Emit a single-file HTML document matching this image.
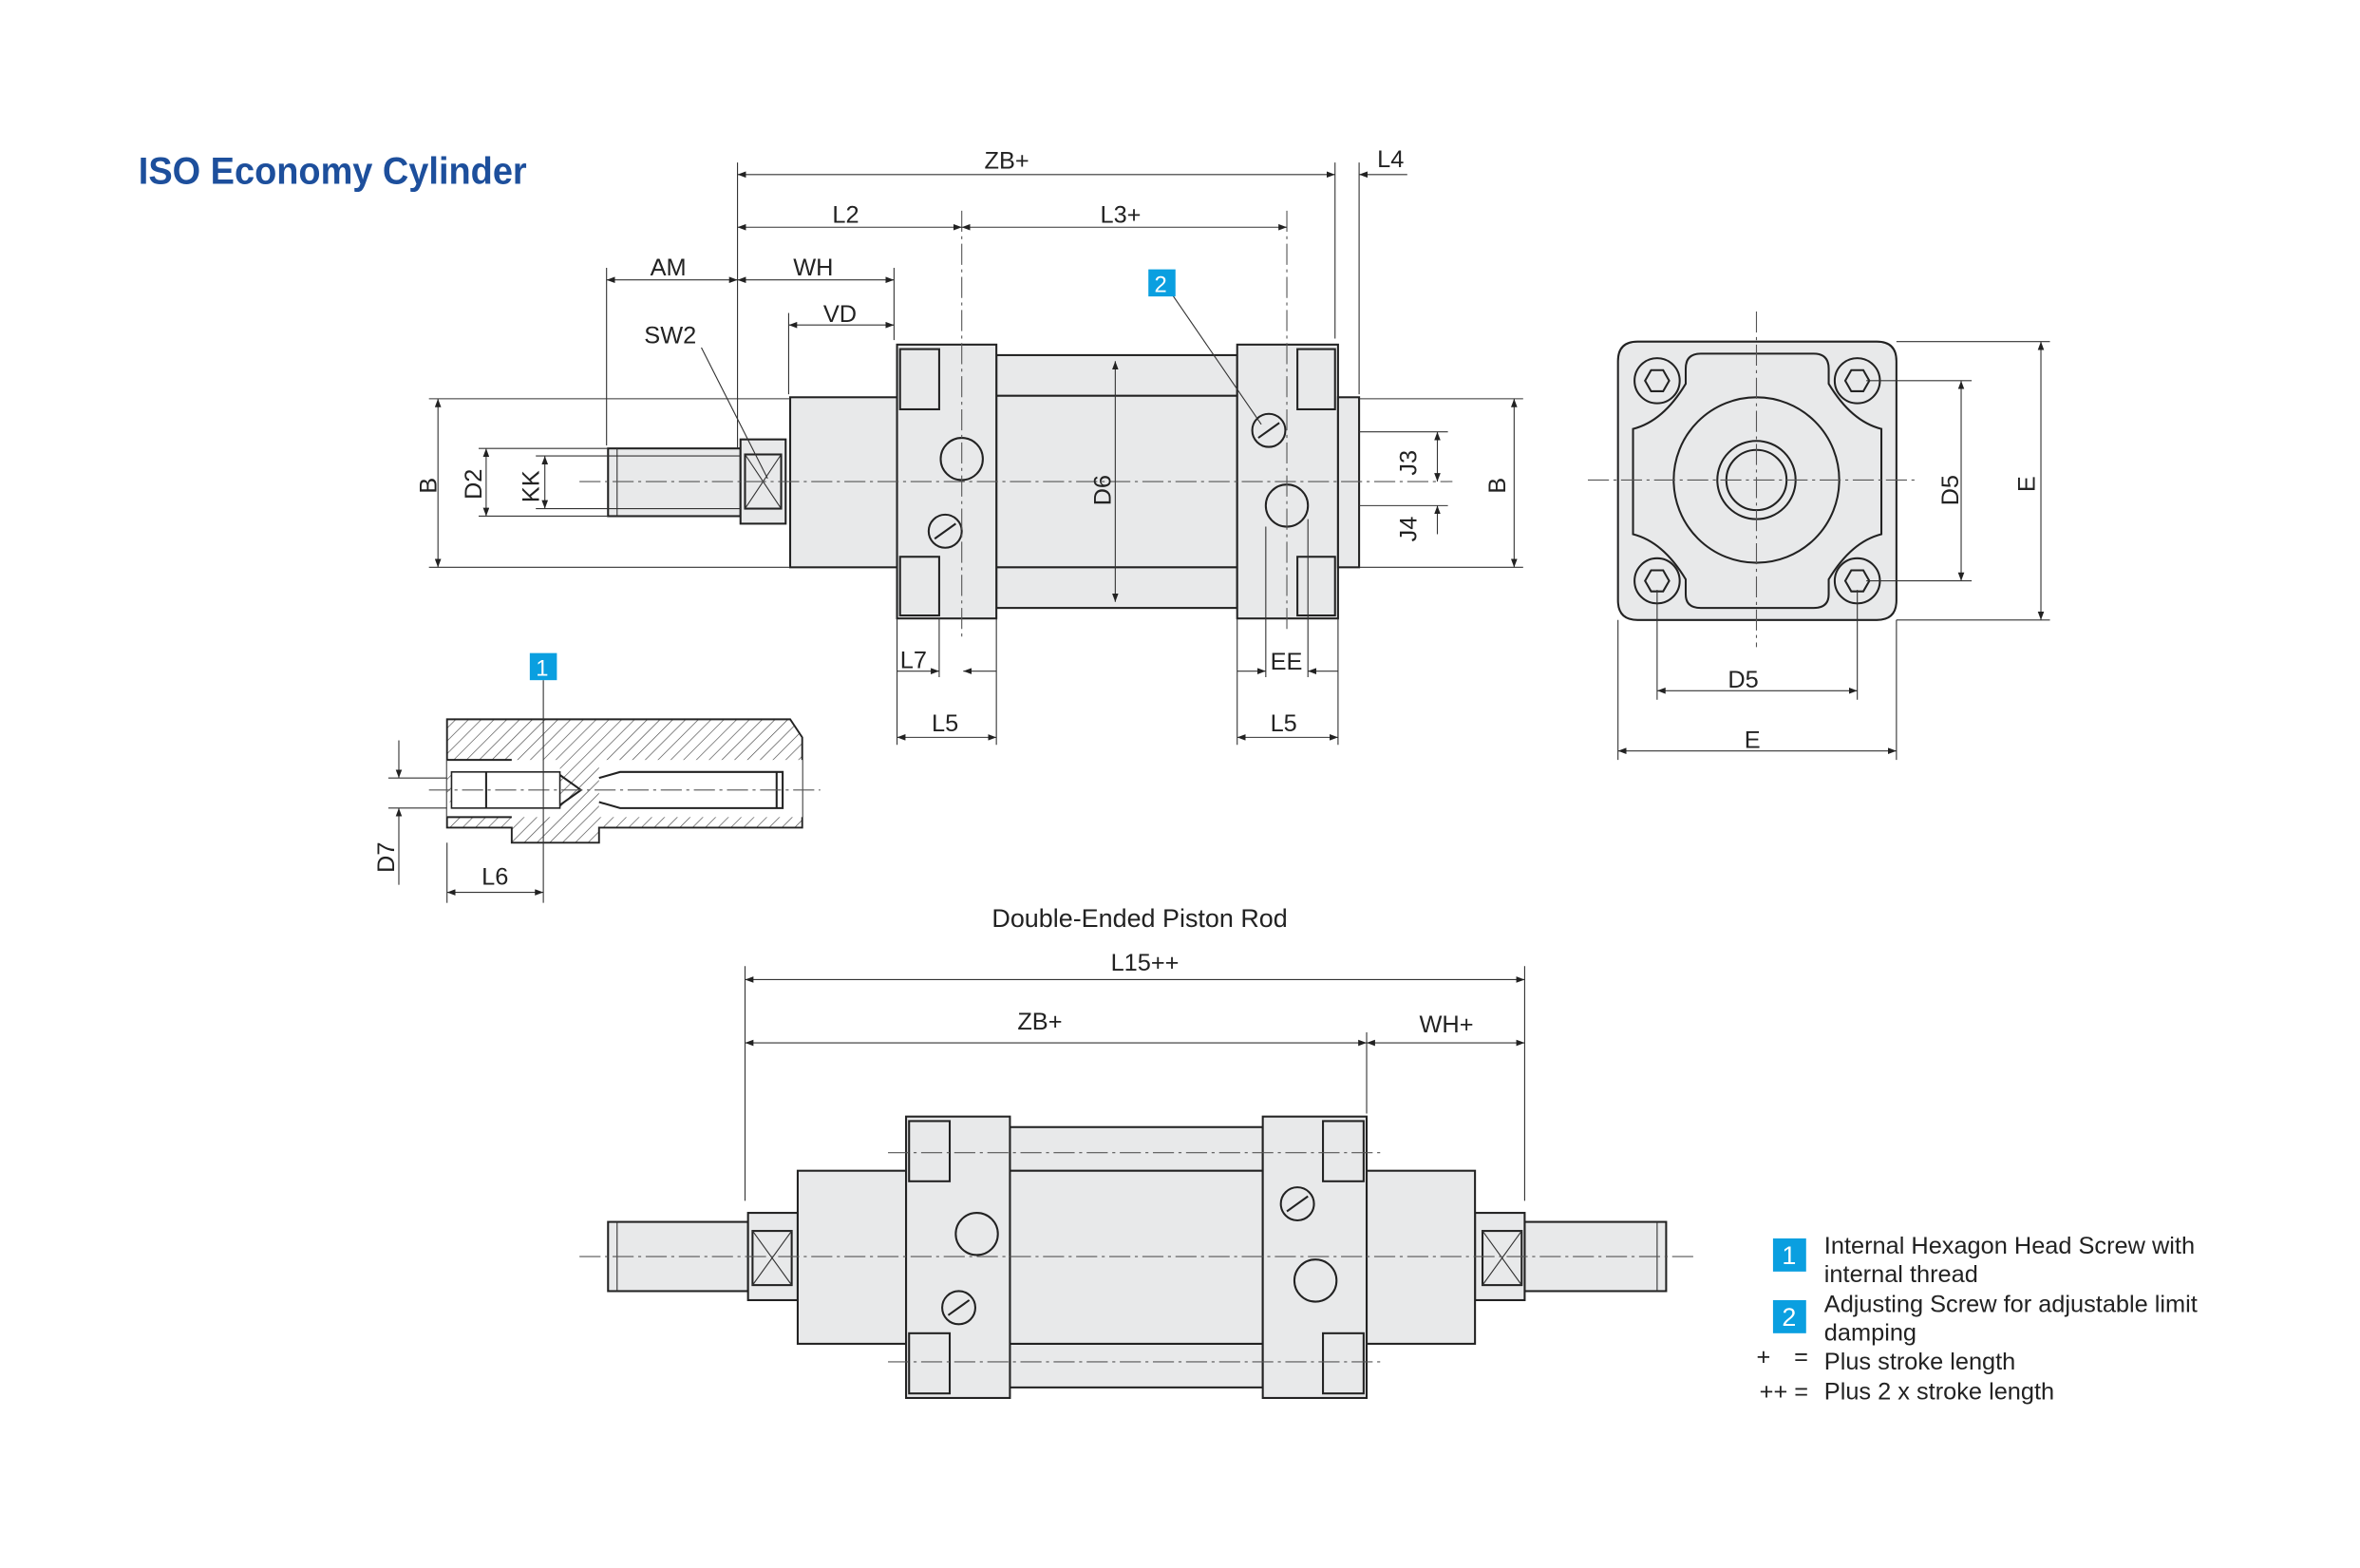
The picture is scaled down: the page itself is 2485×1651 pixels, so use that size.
<!DOCTYPE html>
<html><head><meta charset="utf-8"><style>
html,body{margin:0;padding:0;background:#fff}
svg{display:block}
text{font-family:"Liberation Sans",sans-serif;fill:#222}
.l{stroke:#222;stroke-width:1.3;fill:none}
.f{stroke:#222;stroke-width:1.3;fill:#e8e9ea}
.t{stroke:#333;stroke-width:0.7;fill:none}
.c{stroke:#555;stroke-width:0.7;fill:none;stroke-dasharray:14 3 2 3}
</style></head><body>
<svg width="2485" height="1651" viewBox="0 0 1568 1042" preserveAspectRatio="none" xmlns="http://www.w3.org/2000/svg">
<defs>
<marker id="a" markerWidth="8" markerHeight="6" refX="8" refY="3" orient="auto-start-reverse"><path d="M0,0 L8,3 L0,6 z" fill="#222"/></marker>
<pattern id="h" width="6" height="6" patternUnits="userSpaceOnUse" patternTransform="rotate(45)"><line x1="0" y1="0" x2="0" y2="6" stroke="#444" stroke-width="0.8"/></pattern>
</defs>
<text x="92" y="122" font-size="25" font-weight="bold" textLength="258" lengthAdjust="spacingAndGlyphs" style="fill:#1d4f9c">ISO Economy Cylinder</text>

<rect class="f" x="404" y="298" width="88" height="45"/>
<line class="t" x1="410" y1="298" x2="410" y2="343"/>
<rect class="f" x="492" y="292" width="30" height="56"/>
<rect class="l" x="495" y="302" width="24" height="36"/><line class="t" x1="495" y1="302" x2="519" y2="338"/><line class="t" x1="519" y1="302" x2="495" y2="338"/>
<rect class="f" x="525" y="264" width="71" height="113"/>
<rect class="f" x="662" y="236" width="160" height="168"/>
<line class="l" x1="662" y1="263" x2="822" y2="263"/><line class="l" x1="662" y1="377" x2="822" y2="377"/>
<rect class="f" x="596" y="229" width="66" height="182"/>
<rect class="l" x="598" y="232" width="26" height="40"/><rect class="l" x="598" y="370" width="26" height="39"/>
<rect class="f" x="822" y="229" width="67" height="182"/>
<rect class="l" x="862" y="232" width="25" height="40"/><rect class="l" x="862" y="370" width="25" height="39"/>
<rect class="f" x="889" y="264" width="14" height="113"/>
<circle class="l" cx="639" cy="305" r="14"/><circle class="l" cx="628" cy="353" r="11"/><line class="l" x1="621" y1="358" x2="635" y2="348"/>
<circle class="l" cx="843" cy="286" r="11"/><line class="l" x1="836" y1="291" x2="850" y2="281"/>
<circle class="l" cx="855" cy="336" r="14"/>
<line class="c" x1="385" y1="320" x2="965" y2="320"/>
<line class="c" x1="855" y1="140" x2="855" y2="420"/>
<line class="c" x1="639" y1="140" x2="639" y2="425"/>

<g class="t">
<line x1="490" y1="108" x2="490" y2="298"/><line x1="887" y1="108" x2="887" y2="225"/><line x1="903" y1="108" x2="903" y2="262"/>
<line x1="403" y1="178" x2="403" y2="296"/><line x1="594" y1="178" x2="594" y2="226"/><line x1="524" y1="208" x2="524" y2="262"/>
<line x1="490" y1="116" x2="887" y2="116" marker-start="url(#a)" marker-end="url(#a)"/>
<line x1="903" y1="116" x2="935" y2="116" marker-start="url(#a)"/>
<line x1="490" y1="151" x2="639" y2="151" marker-start="url(#a)" marker-end="url(#a)"/>
<line x1="639" y1="151" x2="855" y2="151" marker-start="url(#a)" marker-end="url(#a)"/>
<line x1="403" y1="186" x2="490" y2="186" marker-start="url(#a)" marker-end="url(#a)"/>
<line x1="490" y1="186" x2="594" y2="186" marker-start="url(#a)" marker-end="url(#a)"/>
<line x1="524" y1="216" x2="594" y2="216" marker-start="url(#a)" marker-end="url(#a)"/>
<line x1="466" y1="231" x2="510" y2="318"/>
<line x1="779" y1="196" x2="838" y2="282"/>
<line x1="285" y1="265" x2="525" y2="265"/><line x1="285" y1="377" x2="525" y2="377"/>
<line x1="318" y1="298" x2="404" y2="298"/><line x1="318" y1="343" x2="404" y2="343"/>
<line x1="291" y1="265" x2="291" y2="377" marker-start="url(#a)" marker-end="url(#a)"/>
<line x1="323" y1="298" x2="323" y2="343" marker-start="url(#a)" marker-end="url(#a)"/>
<line x1="362" y1="303" x2="362" y2="338" marker-start="url(#a)" marker-end="url(#a)"/>
<line x1="356" y1="303" x2="492" y2="303"/><line x1="356" y1="338" x2="492" y2="338"/>
<line x1="741" y1="240" x2="741" y2="400" marker-start="url(#a)" marker-end="url(#a)"/>
<line x1="903" y1="265" x2="1012" y2="265"/><line x1="903" y1="377" x2="1012" y2="377"/>
<line x1="1006" y1="265" x2="1006" y2="377" marker-start="url(#a)" marker-end="url(#a)"/>
<line x1="903" y1="287" x2="962" y2="287"/><line x1="903" y1="336" x2="962" y2="336"/>
<line x1="955" y1="287" x2="955" y2="320" marker-start="url(#a)" marker-end="url(#a)"/>
<line x1="955" y1="336" x2="955" y2="355" marker-start="url(#a)"/>
<line x1="596" y1="411" x2="596" y2="495"/><line x1="662" y1="411" x2="662" y2="495"/><line x1="624" y1="411" x2="624" y2="450"/>
<line x1="822" y1="411" x2="822" y2="495"/><line x1="889" y1="411" x2="889" y2="495"/><line x1="869" y1="345" x2="869" y2="450"/><line x1="841" y1="350" x2="841" y2="450"/>
<line x1="596" y1="446" x2="624" y2="446" marker-end="url(#a)"/><line x1="640" y1="446" x2="662" y2="446" marker-start="url(#a)"/>
<line x1="596" y1="490" x2="662" y2="490" marker-start="url(#a)" marker-end="url(#a)"/>
<line x1="822" y1="446" x2="841" y2="446" marker-end="url(#a)"/><line x1="869" y1="446" x2="889" y2="446" marker-start="url(#a)"/>
<line x1="822" y1="490" x2="889" y2="490" marker-start="url(#a)" marker-end="url(#a)"/>
</g>
<g font-size="16">
<text x="654" y="112">ZB+</text><text x="915" y="111">L4</text><text x="553" y="148">L2</text><text x="731" y="148">L3+</text>
<text x="432" y="183">AM</text><text x="527" y="183">WH</text><text x="547" y="214">VD</text><text x="428" y="228">SW2</text>
<text x="598" y="444">L7</text><text x="844" y="445">EE</text><text x="619" y="486">L5</text><text x="844" y="486">L5</text>
<text transform="translate(290,328) rotate(-90)">B</text><text transform="translate(320,332) rotate(-90)">D2</text>
<text transform="translate(358,334) rotate(-90)">KK</text><text transform="translate(738,336) rotate(-90)">D6</text>
<text transform="translate(941,316) rotate(-90)">J3</text><text transform="translate(941,360) rotate(-90)">J4</text>
<text transform="translate(1000,328) rotate(-90)">B</text>
</g>
<rect x="763" y="179" width="18" height="18" fill="#0a9fe0"/><text x="767" y="194" font-size="15" style="fill:#fff">2</text>

<path class="f" d="M1088,227 H1247 Q1260,227 1260,240 V399 Q1260,412 1247,412 H1088 Q1075,412 1075,399 V240 Q1075,227 1088,227 Z"/>
<path class="l" d="M1130,235 H1205 Q1215,235 1215,245 V255 Q1230,280 1250,285 V355 Q1230,360 1215,385 V395 Q1215,404 1205,404 H1130 Q1120,404 1120,395 V385 Q1105,360 1085,355 V285 Q1105,280 1120,255 V245 Q1120,235 1130,235 Z"/>
<circle class="l" cx="1167" cy="319" r="55" fill="#e8e9ea"/><circle class="l" cx="1167" cy="319" r="26"/><circle class="l" cx="1167" cy="319" r="20"/>
<g class="l">
<circle cx="1101" cy="253" r="15"/><circle cx="1234" cy="253" r="15"/><circle cx="1101" cy="386" r="15"/><circle cx="1234" cy="386" r="15"/>
<polygon points="1093,253 1097,246 1105,246 1109,253 1105,260 1097,260"/><polygon points="1226,253 1230,246 1238,246 1242,253 1238,260 1230,260"/>
<polygon points="1093,386 1097,379 1105,379 1109,386 1105,393 1097,393"/><polygon points="1226,386 1230,379 1238,379 1242,386 1238,393 1230,393"/>
</g>
<line class="c" x1="1055" y1="319" x2="1275" y2="319"/><line class="c" x1="1167" y1="207" x2="1167" y2="430"/>
<g class="t">
<line x1="1240" y1="253" x2="1310" y2="253"/><line x1="1240" y1="386" x2="1310" y2="386"/>
<line x1="1260" y1="227" x2="1362" y2="227"/><line x1="1260" y1="412" x2="1362" y2="412"/>
<line x1="1303" y1="253" x2="1303" y2="386" marker-start="url(#a)" marker-end="url(#a)"/>
<line x1="1356" y1="227" x2="1356" y2="412" marker-start="url(#a)" marker-end="url(#a)"/>
<line x1="1101" y1="392" x2="1101" y2="465"/><line x1="1234" y1="392" x2="1234" y2="465"/>
<line x1="1075" y1="412" x2="1075" y2="505"/><line x1="1260" y1="412" x2="1260" y2="505"/>
<line x1="1101" y1="459" x2="1234" y2="459" marker-start="url(#a)" marker-end="url(#a)"/>
<line x1="1075" y1="499" x2="1260" y2="499" marker-start="url(#a)" marker-end="url(#a)"/>
</g>
<g font-size="16"><text x="1148" y="457">D5</text><text x="1159" y="497">E</text>
<text transform="translate(1301,336) rotate(-90)">D5</text><text transform="translate(1352,327) rotate(-90)">E</text></g>

<path d="M297,478 H525 L533,490 V550 H398 V560 H340 V550 H297 Z" fill="url(#h)" stroke="#222" stroke-width="1.2"/>
<rect x="297" y="505" width="236" height="38" fill="#fff"/>
<path d="M297,515 H372 V505 H398 V543 H372 V533 H297 Z" fill="url(#h)"/>
<rect x="300" y="513" width="72" height="24" fill="#fff" stroke="#222" stroke-width="1"/>
<path class="l" d="M297,505 H340 M297,543 H340 M398,517 L412,513 H520 V537 H412 L398,533 M372,515 L386,525 L372,535"/>
<line class="l" x1="323" y1="513" x2="323" y2="537"/>
<line class="l" x1="516" y1="513" x2="516" y2="537"/>
<line class="c" x1="285" y1="525" x2="545" y2="525"/>
<g class="t"><line x1="297" y1="560" x2="297" y2="600"/><line x1="361" y1="452" x2="361" y2="600"/>
<line x1="297" y1="593" x2="361" y2="593" marker-start="url(#a)" marker-end="url(#a)"/>
<line x1="258" y1="517" x2="297" y2="517"/><line x1="258" y1="537" x2="297" y2="537"/>
<line x1="265" y1="492" x2="265" y2="517" marker-end="url(#a)"/><line x1="265" y1="588" x2="265" y2="537" marker-end="url(#a)"/></g>
<rect x="352" y="434" width="18" height="18" fill="#0a9fe0"/><text x="356" y="449" font-size="15" style="fill:#fff">1</text>
<text x="320" y="588" font-size="16">L6</text><text transform="translate(262,580) rotate(-90)" font-size="16">D7</text>

<text x="659" y="616" font-size="17">Double-Ended Piston Rod</text>
<g class="t">
<line x1="495" y1="642" x2="495" y2="798"/><line x1="1013" y1="642" x2="1013" y2="798"/><line x1="908" y1="686" x2="908" y2="740"/>
<line x1="495" y1="651" x2="1013" y2="651" marker-start="url(#a)" marker-end="url(#a)"/>
<line x1="495" y1="693" x2="908" y2="693" marker-start="url(#a)" marker-end="url(#a)"/>
<line x1="908" y1="693" x2="1013" y2="693" marker-start="url(#a)" marker-end="url(#a)"/>
</g>
<g font-size="16"><text x="738" y="645">L15++</text><text x="676" y="684">ZB+</text><text x="943" y="686">WH+</text></g>
<rect class="f" x="404" y="812" width="93" height="46"/><line class="t" x1="410" y1="812" x2="410" y2="858"/>
<rect class="f" x="1013" y="812" width="94" height="46"/><line class="t" x1="1101" y1="812" x2="1101" y2="858"/>
<rect class="f" x="497" y="806" width="33" height="58"/><rect class="l" x="500" y="818" width="26" height="36"/><line class="t" x1="500" y1="818" x2="526" y2="854"/><line class="t" x1="526" y1="818" x2="500" y2="854"/>
<rect class="f" x="980" y="806" width="33" height="58"/><rect class="l" x="985" y="818" width="26" height="36"/><line class="t" x1="985" y1="818" x2="1011" y2="854"/><line class="t" x1="1011" y1="818" x2="985" y2="854"/>
<rect class="f" x="530" y="778" width="72" height="115"/><rect class="f" x="908" y="778" width="72" height="115"/>
<rect class="f" x="671" y="749" width="168" height="173"/>
<line class="l" x1="671" y1="778" x2="839" y2="778"/><line class="l" x1="671" y1="893" x2="839" y2="893"/>
<rect class="f" x="602" y="742" width="69" height="187"/><rect class="l" x="604" y="745" width="27" height="40"/><rect class="l" x="604" y="886" width="27" height="40"/>
<rect class="f" x="839" y="742" width="69" height="187"/><rect class="l" x="879" y="745" width="27" height="40"/><rect class="l" x="879" y="886" width="27" height="40"/>
<circle class="l" cx="649" cy="820" r="14"/><circle class="l" cx="637" cy="869" r="11"/><line class="l" x1="630" y1="874" x2="644" y2="864"/>
<circle class="l" cx="862" cy="800" r="11"/><line class="l" x1="855" y1="805" x2="869" y2="795"/><circle class="l" cx="874" cy="851" r="14"/>
<line class="c" x1="385" y1="835" x2="1125" y2="835"/>
<line class="c" x1="590" y1="766" x2="920" y2="766"/><line class="c" x1="590" y1="905" x2="920" y2="905"/>

<rect x="1178" y="823" width="22" height="22" fill="#0a9fe0"/><text x="1184" y="840" font-size="17" style="fill:#fff">1</text>
<rect x="1178" y="864" width="22" height="22" fill="#0a9fe0"/><text x="1184" y="881" font-size="17" style="fill:#fff">2</text>
<g font-size="16"><text x="1212" y="833">Internal Hexagon Head Screw with</text><text x="1212" y="852">internal thread</text>
<text x="1212" y="872">Adjusting Screw for adjustable limit</text><text x="1212" y="891">damping</text>
<text x="1167" y="907">+</text><text x="1192" y="907">=</text><text x="1212" y="910">Plus stroke length</text>
<text x="1169" y="930">++ =</text><text x="1212" y="930">Plus 2 x stroke length</text></g>
</svg>
</body></html>
